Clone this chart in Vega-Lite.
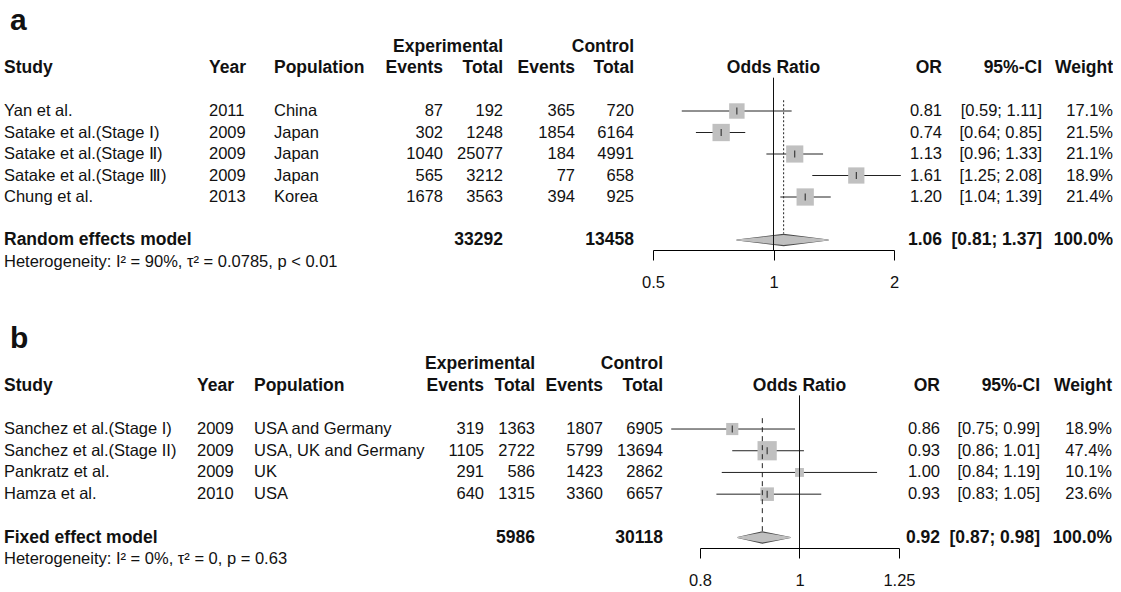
{
"$schema": "https://vega.github.io/schema/vega-lite/v6.json",
"padding": {"left": 4, "top": 0, "right": 0, "bottom": 0},
"background": "white",
"config": {
  "view": {"stroke": null},
  "text": {"font": "Liberation Sans", "fontSize": 16.5, "baseline": "middle", "color": "#111"}
},
"datasets": {
  "a_st": [
    {"study": "Yan et al.", "year": "2011", "pop": "China", "ee": "87", "et": "192", "ce": "365", "ct": "720", "or": 0.81, "lo": 0.59, "hi": 1.11, "w": 17.1, "orl": "0.81", "ci": "[0.59; 1.11]", "wt": "17.1%", "row": 1},
    {"study": "Satake et al.(Stage Ⅰ)", "year": "2009", "pop": "Japan", "ee": "302", "et": "1248", "ce": "1854", "ct": "6164", "or": 0.74, "lo": 0.64, "hi": 0.85, "w": 21.5, "orl": "0.74", "ci": "[0.64; 0.85]", "wt": "21.5%", "row": 2},
    {"study": "Satake et al.(Stage Ⅱ)", "year": "2009", "pop": "Japan", "ee": "1040", "et": "25077", "ce": "184", "ct": "4991", "or": 1.13, "lo": 0.96, "hi": 1.33, "w": 21.1, "orl": "1.13", "ci": "[0.96; 1.33]", "wt": "21.1%", "row": 3},
    {"study": "Satake et al.(Stage Ⅲ)", "year": "2009", "pop": "Japan", "ee": "565", "et": "3212", "ce": "77", "ct": "658", "or": 1.61, "lo": 1.25, "hi": 2.08, "w": 18.9, "orl": "1.61", "ci": "[1.25; 2.08]", "wt": "18.9%", "row": 4},
    {"study": "Chung et al.", "year": "2013", "pop": "Korea", "ee": "1678", "et": "3563", "ce": "394", "ct": "925", "or": 1.20, "lo": 1.04, "hi": 1.39, "w": 21.4, "orl": "1.20", "ci": "[1.04; 1.39]", "wt": "21.4%", "row": 5}
  ],
  "a_sum": [{"label": "Random effects model", "et": "33292", "ct": "13458", "or": 1.06, "lo": 0.81, "hi": 1.37, "orl": "1.06", "ci": "[0.81; 1.37]", "wt": "100.0%", "row": 7}],
  "a_het": [{"text": "Heterogeneity: I² = 90%, τ² = 0.0785, p < 0.01", "row": 8}],
  "a_head": [
    {"col": "label", "text": "a", "row": -2.75},
    {"col": "study", "text": "Study", "row": -1},
    {"col": "year", "text": "Year", "row": -1},
    {"col": "pop", "text": "Population", "row": -1},
    {"col": "ee", "text": "Events", "row": -1},
    {"col": "et", "text": "Total", "row": -1},
    {"col": "exp", "text": "Experimental", "row": -2},
    {"col": "ce", "text": "Events", "row": -1},
    {"col": "ct", "text": "Total", "row": -1},
    {"col": "ctrl", "text": "Control", "row": -2},
    {"col": "forest", "text": "Odds Ratio", "row": -1},
    {"col": "or", "text": "OR", "row": -1},
    {"col": "ci", "text": "95%-CI", "row": -1},
    {"col": "w", "text": "Weight", "row": -1}
  ],
  "b_st": [
    {"study": "Sanchez et al.(Stage I)", "year": "2009", "pop": "USA and Germany", "ee": "319", "et": "1363", "ce": "1807", "ct": "6905", "or": 0.86, "lo": 0.75, "hi": 0.99, "w": 18.9, "orl": "0.86", "ci": "[0.75; 0.99]", "wt": "18.9%", "row": 1},
    {"study": "Sanchez et al.(Stage II)", "year": "2009", "pop": "USA, UK and Germany", "ee": "1105", "et": "2722", "ce": "5799", "ct": "13694", "or": 0.93, "lo": 0.86, "hi": 1.01, "w": 47.4, "orl": "0.93", "ci": "[0.86; 1.01]", "wt": "47.4%", "row": 2},
    {"study": "Pankratz et al.", "year": "2009", "pop": "UK", "ee": "291", "et": "586", "ce": "1423", "ct": "2862", "or": 1.00, "lo": 0.84, "hi": 1.19, "w": 10.1, "orl": "1.00", "ci": "[0.84; 1.19]", "wt": "10.1%", "row": 3},
    {"study": "Hamza et al.", "year": "2010", "pop": "USA", "ee": "640", "et": "1315", "ce": "3360", "ct": "6657", "or": 0.93, "lo": 0.83, "hi": 1.05, "w": 23.6, "orl": "0.93", "ci": "[0.83; 1.05]", "wt": "23.6%", "row": 4}
  ],
  "b_sum": [{"label": "Fixed effect model", "et": "5986", "ct": "30118", "or": 0.92, "lo": 0.87, "hi": 0.98, "orl": "0.92", "ci": "[0.87; 0.98]", "wt": "100.0%", "row": 6}],
  "b_het": [{"text": "Heterogeneity: I² = 0%, τ² = 0, p = 0.63", "row": 7}],
  "b_head": [
    {"col": "label", "text": "b", "row": -2.75},
    {"col": "study", "text": "Study", "row": -1},
    {"col": "year", "text": "Year", "row": -1},
    {"col": "pop", "text": "Population", "row": -1},
    {"col": "ee", "text": "Events", "row": -1},
    {"col": "et", "text": "Total", "row": -1},
    {"col": "exp", "text": "Experimental", "row": -2},
    {"col": "ce", "text": "Events", "row": -1},
    {"col": "ct", "text": "Total", "row": -1},
    {"col": "ctrl", "text": "Control", "row": -2},
    {"col": "forest", "text": "Odds Ratio", "row": -1},
    {"col": "or", "text": "OR", "row": -1},
    {"col": "ci", "text": "95%-CI", "row": -1},
    {"col": "w", "text": "Weight", "row": -1}
  ]
},
"bounds": "full",
"spacing": 26,
"resolve": {"scale": {"size": "independent"}},
"vconcat": [
{
"spacing": 0,
"bounds": "flush",
"hconcat": [
  {"width": 205, "height": 250, "layer": [
    {"data": {"name": "a_st"}, "mark": {"type": "text", "align": "left", "x": 0}, "encoding": {"y": {"field": "row", "type": "quantitative", "scale": {"domain": [-4.163, 7.465], "reverse": true, "nice": false, "zero": false}, "axis": null}, "text": {"field": "study", "type": "nominal"}}},
    {"data": {"name": "a_sum"}, "mark": {"type": "text", "align": "left", "x": 0, "fontWeight": "bold", "fontSize": 17.5}, "encoding": {"y": {"field": "row", "type": "quantitative", "scale": {"domain": [-4.163, 7.465], "reverse": true, "nice": false, "zero": false}, "axis": null}, "text": {"field": "label", "type": "nominal"}}},
    {"data": {"name": "a_het"}, "mark": {"type": "text", "align": "left", "x": 0, "fontSize": 16.5}, "encoding": {"y": {"field": "row", "type": "quantitative", "scale": {"domain": [-4.163, 7.465], "reverse": true, "nice": false, "zero": false}, "axis": null}, "text": {"field": "text", "type": "nominal"}}},
    {"data": {"name": "a_head"}, "transform": [{"filter": "datum.col == 'study'"}], "mark": {"type": "text", "align": "left", "x": 0, "fontWeight": "bold", "fontSize": 17.5}, "encoding": {"y": {"field": "row", "type": "quantitative", "scale": {"domain": [-4.163, 7.465], "reverse": true, "nice": false, "zero": false}, "axis": null}, "text": {"field": "text", "type": "nominal"}}},
    {"data": {"name": "a_head"}, "transform": [{"filter": "datum.col == 'label'"}], "mark": {"type": "text", "align": "left", "x": 0, "dx": 6, "fontWeight": "bold", "fontSize": 30, "baseline": "alphabetic"}, "encoding": {"y": {"field": "row", "type": "quantitative", "scale": {"domain": [-4.163, 7.465], "reverse": true, "nice": false, "zero": false}, "axis": null}, "text": {"field": "text", "type": "nominal"}}}
  ]},
  {"width": 65, "height": 250, "layer": [
    {"data": {"name": "a_st"}, "mark": {"type": "text", "align": "left", "x": 0}, "encoding": {"y": {"field": "row", "type": "quantitative", "scale": {"domain": [-4.163, 7.465], "reverse": true, "nice": false, "zero": false}, "axis": null}, "text": {"field": "year", "type": "nominal"}}},
    {"data": {"name": "a_head"}, "transform": [{"filter": "datum.col == 'year'"}], "mark": {"type": "text", "align": "left", "x": 0, "fontWeight": "bold", "fontSize": 17.5}, "encoding": {"y": {"field": "row", "type": "quantitative", "scale": {"domain": [-4.163, 7.465], "reverse": true, "nice": false, "zero": false}, "axis": null}, "text": {"field": "text", "type": "nominal"}}}
  ]},
  {"width": 169, "height": 250, "layer": [
    {"data": {"name": "a_st"}, "mark": {"type": "text", "align": "left", "x": 0}, "encoding": {"y": {"field": "row", "type": "quantitative", "scale": {"domain": [-4.163, 7.465], "reverse": true, "nice": false, "zero": false}, "axis": null}, "text": {"field": "pop", "type": "nominal"}}},
    {"data": {"name": "a_st"}, "mark": {"type": "text", "align": "right", "x": "width"}, "encoding": {"y": {"field": "row", "type": "quantitative", "scale": {"domain": [-4.163, 7.465], "reverse": true, "nice": false, "zero": false}, "axis": null}, "text": {"field": "ee", "type": "nominal"}}},
    {"data": {"name": "a_head"}, "transform": [{"filter": "datum.col == 'pop'"}], "mark": {"type": "text", "align": "left", "x": 0, "fontWeight": "bold", "fontSize": 17.5}, "encoding": {"y": {"field": "row", "type": "quantitative", "scale": {"domain": [-4.163, 7.465], "reverse": true, "nice": false, "zero": false}, "axis": null}, "text": {"field": "text", "type": "nominal"}}},
    {"data": {"name": "a_head"}, "transform": [{"filter": "datum.col == 'ee'"}], "mark": {"type": "text", "align": "right", "x": "width", "fontWeight": "bold", "fontSize": 17.5}, "encoding": {"y": {"field": "row", "type": "quantitative", "scale": {"domain": [-4.163, 7.465], "reverse": true, "nice": false, "zero": false}, "axis": null}, "text": {"field": "text", "type": "nominal"}}}
  ]},
  {"width": 60, "height": 250, "layer": [
    {"data": {"name": "a_st"}, "mark": {"type": "text", "align": "right", "x": "width"}, "encoding": {"y": {"field": "row", "type": "quantitative", "scale": {"domain": [-4.163, 7.465], "reverse": true, "nice": false, "zero": false}, "axis": null}, "text": {"field": "et", "type": "nominal"}}},
    {"data": {"name": "a_sum"}, "mark": {"type": "text", "align": "right", "x": "width", "fontWeight": "bold", "fontSize": 17.5}, "encoding": {"y": {"field": "row", "type": "quantitative", "scale": {"domain": [-4.163, 7.465], "reverse": true, "nice": false, "zero": false}, "axis": null}, "text": {"field": "et", "type": "nominal"}}},
    {"data": {"name": "a_head"}, "transform": [{"filter": "datum.col == 'et' || datum.col == 'exp'"}], "mark": {"type": "text", "align": "right", "x": "width", "fontWeight": "bold", "fontSize": 17.5}, "encoding": {"y": {"field": "row", "type": "quantitative", "scale": {"domain": [-4.163, 7.465], "reverse": true, "nice": false, "zero": false}, "axis": null}, "text": {"field": "text", "type": "nominal"}}}
  ]},
  {"width": 72, "height": 250, "layer": [
    {"data": {"name": "a_st"}, "mark": {"type": "text", "align": "right", "x": "width"}, "encoding": {"y": {"field": "row", "type": "quantitative", "scale": {"domain": [-4.163, 7.465], "reverse": true, "nice": false, "zero": false}, "axis": null}, "text": {"field": "ce", "type": "nominal"}}},
    {"data": {"name": "a_head"}, "transform": [{"filter": "datum.col == 'ce'"}], "mark": {"type": "text", "align": "right", "x": "width", "fontWeight": "bold", "fontSize": 17.5}, "encoding": {"y": {"field": "row", "type": "quantitative", "scale": {"domain": [-4.163, 7.465], "reverse": true, "nice": false, "zero": false}, "axis": null}, "text": {"field": "text", "type": "nominal"}}}
  ]},
  {"width": 59, "height": 250, "layer": [
    {"data": {"name": "a_st"}, "mark": {"type": "text", "align": "right", "x": "width"}, "encoding": {"y": {"field": "row", "type": "quantitative", "scale": {"domain": [-4.163, 7.465], "reverse": true, "nice": false, "zero": false}, "axis": null}, "text": {"field": "ct", "type": "nominal"}}},
    {"data": {"name": "a_sum"}, "mark": {"type": "text", "align": "right", "x": "width", "fontWeight": "bold", "fontSize": 17.5}, "encoding": {"y": {"field": "row", "type": "quantitative", "scale": {"domain": [-4.163, 7.465], "reverse": true, "nice": false, "zero": false}, "axis": null}, "text": {"field": "ct", "type": "nominal"}}},
    {"data": {"name": "a_head"}, "transform": [{"filter": "datum.col == 'ct' || datum.col == 'ctrl'"}], "mark": {"type": "text", "align": "right", "x": "width", "fontWeight": "bold", "fontSize": 17.5}, "encoding": {"y": {"field": "row", "type": "quantitative", "scale": {"domain": [-4.163, 7.465], "reverse": true, "nice": false, "zero": false}, "axis": null}, "text": {"field": "text", "type": "nominal"}}}
  ]},
  {"width": 19, "height": 250, "data": {"values": []}, "mark": {"type": "point"}, "encoding": {}},
  {"width": 241, "height": 250,
   "resolve": {"scale": {"size": "independent"}},
   "layer": [
    {"data": {"name": "a_st"}, "mark": {"type": "rule", "color": "#222", "strokeWidth": 1}, "encoding": {
      "x": {"field": "lo", "type": "quantitative", "scale": {"type": "log", "domain": [0.5, 2], "nice": false}, "axis": {"values": [0.5, 1, 2], "format": "~g", "title": null, "grid": false, "tickSize": 10, "labelPadding": 14, "domainColor": "#000", "tickColor": "#000", "labelColor": "#111", "labelFontSize": 16.5, "labelFont": "Liberation Sans", "labelFontWeight": "normal", "labelFlush": false, "labelOverlap": false, "domainWidth": 1, "tickWidth": 1}},
      "x2": {"field": "hi"},
      "y": {"field": "row", "type": "quantitative", "scale": {"domain": [-4.163, 7.465], "reverse": true, "nice": false, "zero": false}, "axis": null}}},
    {"data": {"name": "a_st"}, "mark": {"type": "point", "shape": "square", "filled": true, "color": "#c0c0c0", "opacity": 1, "strokeWidth": 0}, "encoding": {
      "x": {"field": "or", "type": "quantitative"},
      "y": {"field": "row", "type": "quantitative", "axis": null},
      "size": {"field": "w", "type": "quantitative", "scale": {"domain": [0, 21.5], "range": [0, 300]}, "legend": null}}},
    {"data": {"name": "a_st"}, "mark": {"type": "tick", "orient": "vertical", "size": 7, "thickness": 1, "color": "#222", "opacity": 1}, "encoding": {
      "x": {"field": "or", "type": "quantitative"},
      "y": {"field": "row", "type": "quantitative", "axis": null}}},
    {"data": {"name": "a_sum"}, "transform": [{"fold": ["lo", "or", "hi"], "as": ["k", "v"]}], "mark": {"type": "trail", "color": "#4a4a4a", "opacity": 1}, "encoding": {
      "x": {"field": "v", "type": "quantitative"},
      "y": {"field": "row", "type": "quantitative", "axis": null},
      "size": {"field": "k", "type": "ordinal", "scale": {"type": "ordinal", "domain": ["lo", "or", "hi"], "range": [0, 12.5, 0]}, "legend": null}}},
    {"data": {"name": "a_sum"}, "transform": [{"fold": ["lo", "or", "hi"], "as": ["k2", "v2"]}], "mark": {"type": "trail", "color": "#c0c0c0", "opacity": 1}, "encoding": {
      "x": {"field": "v2", "type": "quantitative"},
      "y": {"field": "row", "type": "quantitative", "axis": null},
      "size": {"field": "k2", "type": "ordinal", "scale": {"type": "ordinal", "domain": ["lo", "or", "hi"], "range": [0, 10, 0]}, "legend": null}}},
    {"data": {"name": "a_sum"}, "mark": {"type": "rule", "color": "#222", "strokeWidth": 1, "strokeDash": [2, 2]}, "encoding": {
      "x": {"field": "or", "type": "quantitative"},
      "y": {"datum": 0.5, "type": "quantitative", "axis": null},
      "y2": {"datum": 6.7}}},
    {"data": {"name": "a_sum"}, "mark": {"type": "rule", "color": "#111", "strokeWidth": 1}, "encoding": {
      "x": {"datum": 1, "type": "quantitative"},
      "y": {"datum": -0.55, "type": "quantitative", "axis": null},
      "y2": {"datum": 7.465}}},
    {"data": {"name": "a_head"}, "transform": [{"filter": "datum.col == 'forest'"}], "mark": {"type": "text", "align": "center", "fontWeight": "bold", "fontSize": 17.5}, "encoding": {
      "x": {"datum": 1, "type": "quantitative"},
      "y": {"field": "row", "type": "quantitative", "axis": null},
      "text": {"field": "text", "type": "nominal"}}}
  ]},
  {"width": 19, "height": 250, "data": {"values": []}, "mark": {"type": "point"}, "encoding": {}},
  {"width": 29, "height": 250, "layer": [
    {"data": {"name": "a_st"}, "mark": {"type": "text", "align": "right", "x": "width"}, "encoding": {"y": {"field": "row", "type": "quantitative", "scale": {"domain": [-4.163, 7.465], "reverse": true, "nice": false, "zero": false}, "axis": null}, "text": {"field": "orl", "type": "nominal"}}},
    {"data": {"name": "a_sum"}, "mark": {"type": "text", "align": "right", "x": "width", "fontWeight": "bold", "fontSize": 17.5}, "encoding": {"y": {"field": "row", "type": "quantitative", "scale": {"domain": [-4.163, 7.465], "reverse": true, "nice": false, "zero": false}, "axis": null}, "text": {"field": "orl", "type": "nominal"}}},
    {"data": {"name": "a_head"}, "transform": [{"filter": "datum.col == 'or'"}], "mark": {"type": "text", "align": "right", "x": "width", "fontWeight": "bold", "fontSize": 17.5}, "encoding": {"y": {"field": "row", "type": "quantitative", "scale": {"domain": [-4.163, 7.465], "reverse": true, "nice": false, "zero": false}, "axis": null}, "text": {"field": "text", "type": "nominal"}}}
  ]},
  {"width": 100, "height": 250, "layer": [
    {"data": {"name": "a_st"}, "mark": {"type": "text", "align": "right", "x": "width"}, "encoding": {"y": {"field": "row", "type": "quantitative", "scale": {"domain": [-4.163, 7.465], "reverse": true, "nice": false, "zero": false}, "axis": null}, "text": {"field": "ci", "type": "nominal"}}},
    {"data": {"name": "a_sum"}, "mark": {"type": "text", "align": "right", "x": "width", "fontWeight": "bold", "fontSize": 17.5}, "encoding": {"y": {"field": "row", "type": "quantitative", "scale": {"domain": [-4.163, 7.465], "reverse": true, "nice": false, "zero": false}, "axis": null}, "text": {"field": "ci", "type": "nominal"}}},
    {"data": {"name": "a_head"}, "transform": [{"filter": "datum.col == 'ci'"}], "mark": {"type": "text", "align": "right", "x": "width", "fontWeight": "bold", "fontSize": 17.5}, "encoding": {"y": {"field": "row", "type": "quantitative", "scale": {"domain": [-4.163, 7.465], "reverse": true, "nice": false, "zero": false}, "axis": null}, "text": {"field": "text", "type": "nominal"}}}
  ]},
  {"width": 71, "height": 250, "layer": [
    {"data": {"name": "a_st"}, "mark": {"type": "text", "align": "right", "x": "width"}, "encoding": {"y": {"field": "row", "type": "quantitative", "scale": {"domain": [-4.163, 7.465], "reverse": true, "nice": false, "zero": false}, "axis": null}, "text": {"field": "wt", "type": "nominal"}}},
    {"data": {"name": "a_sum"}, "mark": {"type": "text", "align": "right", "x": "width", "fontWeight": "bold", "fontSize": 17.5}, "encoding": {"y": {"field": "row", "type": "quantitative", "scale": {"domain": [-4.163, 7.465], "reverse": true, "nice": false, "zero": false}, "axis": null}, "text": {"field": "wt", "type": "nominal"}}},
    {"data": {"name": "a_head"}, "transform": [{"filter": "datum.col == 'w'"}], "mark": {"type": "text", "align": "right", "x": "width", "fontWeight": "bold", "fontSize": 17.5}, "encoding": {"y": {"field": "row", "type": "quantitative", "scale": {"domain": [-4.163, 7.465], "reverse": true, "nice": false, "zero": false}, "axis": null}, "text": {"field": "text", "type": "nominal"}}}
  ]}
]
},
{
"spacing": 0,
"bounds": "flush",
"hconcat": [
  {"width": 193, "height": 231, "layer": [
    {"data": {"name": "b_st"}, "mark": {"type": "text", "align": "left", "x": 0}, "encoding": {"y": {"field": "row", "type": "quantitative", "scale": {"domain": [-4.16, 6.48], "reverse": true, "nice": false, "zero": false}, "axis": null}, "text": {"field": "study", "type": "nominal"}}},
    {"data": {"name": "b_sum"}, "mark": {"type": "text", "align": "left", "x": 0, "fontWeight": "bold", "fontSize": 17.5}, "encoding": {"y": {"field": "row", "type": "quantitative", "scale": {"domain": [-4.16, 6.48], "reverse": true, "nice": false, "zero": false}, "axis": null}, "text": {"field": "label", "type": "nominal"}}},
    {"data": {"name": "b_het"}, "mark": {"type": "text", "align": "left", "x": 0, "fontSize": 16.5}, "encoding": {"y": {"field": "row", "type": "quantitative", "scale": {"domain": [-4.16, 6.48], "reverse": true, "nice": false, "zero": false}, "axis": null}, "text": {"field": "text", "type": "nominal"}}},
    {"data": {"name": "b_head"}, "transform": [{"filter": "datum.col == 'study'"}], "mark": {"type": "text", "align": "left", "x": 0, "fontWeight": "bold", "fontSize": 17.5}, "encoding": {"y": {"field": "row", "type": "quantitative", "scale": {"domain": [-4.16, 6.48], "reverse": true, "nice": false, "zero": false}, "axis": null}, "text": {"field": "text", "type": "nominal"}}},
    {"data": {"name": "b_head"}, "transform": [{"filter": "datum.col == 'label'"}], "mark": {"type": "text", "align": "left", "x": 0, "dx": 6, "fontWeight": "bold", "fontSize": 30, "baseline": "alphabetic"}, "encoding": {"y": {"field": "row", "type": "quantitative", "scale": {"domain": [-4.16, 6.48], "reverse": true, "nice": false, "zero": false}, "axis": null}, "text": {"field": "text", "type": "nominal"}}}
  ]},
  {"width": 57, "height": 231, "layer": [
    {"data": {"name": "b_st"}, "mark": {"type": "text", "align": "left", "x": 0}, "encoding": {"y": {"field": "row", "type": "quantitative", "scale": {"domain": [-4.16, 6.48], "reverse": true, "nice": false, "zero": false}, "axis": null}, "text": {"field": "year", "type": "nominal"}}},
    {"data": {"name": "b_head"}, "transform": [{"filter": "datum.col == 'year'"}], "mark": {"type": "text", "align": "left", "x": 0, "fontWeight": "bold", "fontSize": 17.5}, "encoding": {"y": {"field": "row", "type": "quantitative", "scale": {"domain": [-4.16, 6.48], "reverse": true, "nice": false, "zero": false}, "axis": null}, "text": {"field": "text", "type": "nominal"}}}
  ]},
  {"width": 230, "height": 231, "layer": [
    {"data": {"name": "b_st"}, "mark": {"type": "text", "align": "left", "x": 0}, "encoding": {"y": {"field": "row", "type": "quantitative", "scale": {"domain": [-4.16, 6.48], "reverse": true, "nice": false, "zero": false}, "axis": null}, "text": {"field": "pop", "type": "nominal"}}},
    {"data": {"name": "b_st"}, "mark": {"type": "text", "align": "right", "x": "width"}, "encoding": {"y": {"field": "row", "type": "quantitative", "scale": {"domain": [-4.16, 6.48], "reverse": true, "nice": false, "zero": false}, "axis": null}, "text": {"field": "ee", "type": "nominal"}}},
    {"data": {"name": "b_head"}, "transform": [{"filter": "datum.col == 'pop'"}], "mark": {"type": "text", "align": "left", "x": 0, "fontWeight": "bold", "fontSize": 17.5}, "encoding": {"y": {"field": "row", "type": "quantitative", "scale": {"domain": [-4.16, 6.48], "reverse": true, "nice": false, "zero": false}, "axis": null}, "text": {"field": "text", "type": "nominal"}}},
    {"data": {"name": "b_head"}, "transform": [{"filter": "datum.col == 'ee'"}], "mark": {"type": "text", "align": "right", "x": "width", "fontWeight": "bold", "fontSize": 17.5}, "encoding": {"y": {"field": "row", "type": "quantitative", "scale": {"domain": [-4.16, 6.48], "reverse": true, "nice": false, "zero": false}, "axis": null}, "text": {"field": "text", "type": "nominal"}}}
  ]},
  {"width": 51, "height": 231, "layer": [
    {"data": {"name": "b_st"}, "mark": {"type": "text", "align": "right", "x": "width"}, "encoding": {"y": {"field": "row", "type": "quantitative", "scale": {"domain": [-4.16, 6.48], "reverse": true, "nice": false, "zero": false}, "axis": null}, "text": {"field": "et", "type": "nominal"}}},
    {"data": {"name": "b_sum"}, "mark": {"type": "text", "align": "right", "x": "width", "fontWeight": "bold", "fontSize": 17.5}, "encoding": {"y": {"field": "row", "type": "quantitative", "scale": {"domain": [-4.16, 6.48], "reverse": true, "nice": false, "zero": false}, "axis": null}, "text": {"field": "et", "type": "nominal"}}},
    {"data": {"name": "b_head"}, "transform": [{"filter": "datum.col == 'et' || datum.col == 'exp'"}], "mark": {"type": "text", "align": "right", "x": "width", "fontWeight": "bold", "fontSize": 17.5}, "encoding": {"y": {"field": "row", "type": "quantitative", "scale": {"domain": [-4.16, 6.48], "reverse": true, "nice": false, "zero": false}, "axis": null}, "text": {"field": "text", "type": "nominal"}}}
  ]},
  {"width": 68, "height": 231, "layer": [
    {"data": {"name": "b_st"}, "mark": {"type": "text", "align": "right", "x": "width"}, "encoding": {"y": {"field": "row", "type": "quantitative", "scale": {"domain": [-4.16, 6.48], "reverse": true, "nice": false, "zero": false}, "axis": null}, "text": {"field": "ce", "type": "nominal"}}},
    {"data": {"name": "b_head"}, "transform": [{"filter": "datum.col == 'ce'"}], "mark": {"type": "text", "align": "right", "x": "width", "fontWeight": "bold", "fontSize": 17.5}, "encoding": {"y": {"field": "row", "type": "quantitative", "scale": {"domain": [-4.16, 6.48], "reverse": true, "nice": false, "zero": false}, "axis": null}, "text": {"field": "text", "type": "nominal"}}}
  ]},
  {"width": 60, "height": 231, "layer": [
    {"data": {"name": "b_st"}, "mark": {"type": "text", "align": "right", "x": "width"}, "encoding": {"y": {"field": "row", "type": "quantitative", "scale": {"domain": [-4.16, 6.48], "reverse": true, "nice": false, "zero": false}, "axis": null}, "text": {"field": "ct", "type": "nominal"}}},
    {"data": {"name": "b_sum"}, "mark": {"type": "text", "align": "right", "x": "width", "fontWeight": "bold", "fontSize": 17.5}, "encoding": {"y": {"field": "row", "type": "quantitative", "scale": {"domain": [-4.16, 6.48], "reverse": true, "nice": false, "zero": false}, "axis": null}, "text": {"field": "ct", "type": "nominal"}}},
    {"data": {"name": "b_head"}, "transform": [{"filter": "datum.col == 'ct' || datum.col == 'ctrl'"}], "mark": {"type": "text", "align": "right", "x": "width", "fontWeight": "bold", "fontSize": 17.5}, "encoding": {"y": {"field": "row", "type": "quantitative", "scale": {"domain": [-4.16, 6.48], "reverse": true, "nice": false, "zero": false}, "axis": null}, "text": {"field": "text", "type": "nominal"}}}
  ]},
  {"width": 37, "height": 231, "data": {"values": []}, "mark": {"type": "point"}, "encoding": {}},
  {"width": 199, "height": 231,
   "resolve": {"scale": {"size": "independent"}},
   "layer": [
    {"data": {"name": "b_st"}, "mark": {"type": "rule", "color": "#222", "strokeWidth": 1}, "encoding": {
      "x": {"field": "lo", "type": "quantitative", "scale": {"type": "log", "domain": [0.8, 1.25], "nice": false}, "axis": {"values": [0.8, 1, 1.25], "format": "~g", "title": null, "grid": false, "tickSize": 10, "labelPadding": 14, "domainColor": "#000", "tickColor": "#000", "labelColor": "#111", "labelFontSize": 16.5, "labelFont": "Liberation Sans", "labelFontWeight": "normal", "labelFlush": false, "labelOverlap": false, "domainWidth": 1, "tickWidth": 1}},
      "x2": {"field": "hi"},
      "y": {"field": "row", "type": "quantitative", "scale": {"domain": [-4.16, 6.48], "reverse": true, "nice": false, "zero": false}, "axis": null}}},
    {"data": {"name": "b_st"}, "mark": {"type": "point", "shape": "square", "filled": true, "color": "#c0c0c0", "opacity": 1, "strokeWidth": 0}, "encoding": {
      "x": {"field": "or", "type": "quantitative"},
      "y": {"field": "row", "type": "quantitative", "axis": null},
      "size": {"field": "w", "type": "quantitative", "scale": {"domain": [0, 47.4], "range": [0, 370]}, "legend": null}}},
    {"data": {"name": "b_st"}, "mark": {"type": "tick", "orient": "vertical", "size": 7, "thickness": 1, "color": "#222", "opacity": 1}, "encoding": {
      "x": {"field": "or", "type": "quantitative"},
      "y": {"field": "row", "type": "quantitative", "axis": null}}},
    {"data": {"name": "b_sum"}, "transform": [{"fold": ["lo", "or", "hi"], "as": ["k", "v"]}], "mark": {"type": "trail", "color": "#4a4a4a", "opacity": 1}, "encoding": {
      "x": {"field": "v", "type": "quantitative"},
      "y": {"field": "row", "type": "quantitative", "axis": null},
      "size": {"field": "k", "type": "ordinal", "scale": {"type": "ordinal", "domain": ["lo", "or", "hi"], "range": [0, 12.5, 0]}, "legend": null}}},
    {"data": {"name": "b_sum"}, "transform": [{"fold": ["lo", "or", "hi"], "as": ["k2", "v2"]}], "mark": {"type": "trail", "color": "#c0c0c0", "opacity": 1}, "encoding": {
      "x": {"field": "v2", "type": "quantitative"},
      "y": {"field": "row", "type": "quantitative", "axis": null},
      "size": {"field": "k2", "type": "ordinal", "scale": {"type": "ordinal", "domain": ["lo", "or", "hi"], "range": [0, 10, 0]}, "legend": null}}},
    {"data": {"name": "b_sum"}, "mark": {"type": "rule", "color": "#222", "strokeWidth": 1, "strokeDash": [5, 4]}, "encoding": {
      "x": {"field": "or", "type": "quantitative"},
      "y": {"datum": 0.5, "type": "quantitative", "axis": null},
      "y2": {"datum": 5.7}}},
    {"data": {"name": "b_sum"}, "mark": {"type": "rule", "color": "#111", "strokeWidth": 1}, "encoding": {
      "x": {"datum": 1, "type": "quantitative"},
      "y": {"datum": -0.55, "type": "quantitative", "axis": null},
      "y2": {"datum": 6.48}}},
    {"data": {"name": "b_head"}, "transform": [{"filter": "datum.col == 'forest'"}], "mark": {"type": "text", "align": "center", "fontWeight": "bold", "fontSize": 17.5}, "encoding": {
      "x": {"datum": 1, "type": "quantitative"},
      "y": {"field": "row", "type": "quantitative", "axis": null},
      "text": {"field": "text", "type": "nominal"}}}
  ]},
  {"width": 37, "height": 231, "data": {"values": []}, "mark": {"type": "point"}, "encoding": {}},
  {"width": 4, "height": 231, "layer": [
    {"data": {"name": "b_st"}, "mark": {"type": "text", "align": "right", "x": "width"}, "encoding": {"y": {"field": "row", "type": "quantitative", "scale": {"domain": [-4.16, 6.48], "reverse": true, "nice": false, "zero": false}, "axis": null}, "text": {"field": "orl", "type": "nominal"}}},
    {"data": {"name": "b_sum"}, "mark": {"type": "text", "align": "right", "x": "width", "fontWeight": "bold", "fontSize": 17.5}, "encoding": {"y": {"field": "row", "type": "quantitative", "scale": {"domain": [-4.16, 6.48], "reverse": true, "nice": false, "zero": false}, "axis": null}, "text": {"field": "orl", "type": "nominal"}}},
    {"data": {"name": "b_head"}, "transform": [{"filter": "datum.col == 'or'"}], "mark": {"type": "text", "align": "right", "x": "width", "fontWeight": "bold", "fontSize": 17.5}, "encoding": {"y": {"field": "row", "type": "quantitative", "scale": {"domain": [-4.16, 6.48], "reverse": true, "nice": false, "zero": false}, "axis": null}, "text": {"field": "text", "type": "nominal"}}}
  ]},
  {"width": 100, "height": 231, "layer": [
    {"data": {"name": "b_st"}, "mark": {"type": "text", "align": "right", "x": "width"}, "encoding": {"y": {"field": "row", "type": "quantitative", "scale": {"domain": [-4.16, 6.48], "reverse": true, "nice": false, "zero": false}, "axis": null}, "text": {"field": "ci", "type": "nominal"}}},
    {"data": {"name": "b_sum"}, "mark": {"type": "text", "align": "right", "x": "width", "fontWeight": "bold", "fontSize": 17.5}, "encoding": {"y": {"field": "row", "type": "quantitative", "scale": {"domain": [-4.16, 6.48], "reverse": true, "nice": false, "zero": false}, "axis": null}, "text": {"field": "ci", "type": "nominal"}}},
    {"data": {"name": "b_head"}, "transform": [{"filter": "datum.col == 'ci'"}], "mark": {"type": "text", "align": "right", "x": "width", "fontWeight": "bold", "fontSize": 17.5}, "encoding": {"y": {"field": "row", "type": "quantitative", "scale": {"domain": [-4.16, 6.48], "reverse": true, "nice": false, "zero": false}, "axis": null}, "text": {"field": "text", "type": "nominal"}}}
  ]},
  {"width": 72, "height": 231, "layer": [
    {"data": {"name": "b_st"}, "mark": {"type": "text", "align": "right", "x": "width"}, "encoding": {"y": {"field": "row", "type": "quantitative", "scale": {"domain": [-4.16, 6.48], "reverse": true, "nice": false, "zero": false}, "axis": null}, "text": {"field": "wt", "type": "nominal"}}},
    {"data": {"name": "b_sum"}, "mark": {"type": "text", "align": "right", "x": "width", "fontWeight": "bold", "fontSize": 17.5}, "encoding": {"y": {"field": "row", "type": "quantitative", "scale": {"domain": [-4.16, 6.48], "reverse": true, "nice": false, "zero": false}, "axis": null}, "text": {"field": "wt", "type": "nominal"}}},
    {"data": {"name": "b_head"}, "transform": [{"filter": "datum.col == 'w'"}], "mark": {"type": "text", "align": "right", "x": "width", "fontWeight": "bold", "fontSize": 17.5}, "encoding": {"y": {"field": "row", "type": "quantitative", "scale": {"domain": [-4.16, 6.48], "reverse": true, "nice": false, "zero": false}, "axis": null}, "text": {"field": "text", "type": "nominal"}}}
  ]}
]
}
]
}
